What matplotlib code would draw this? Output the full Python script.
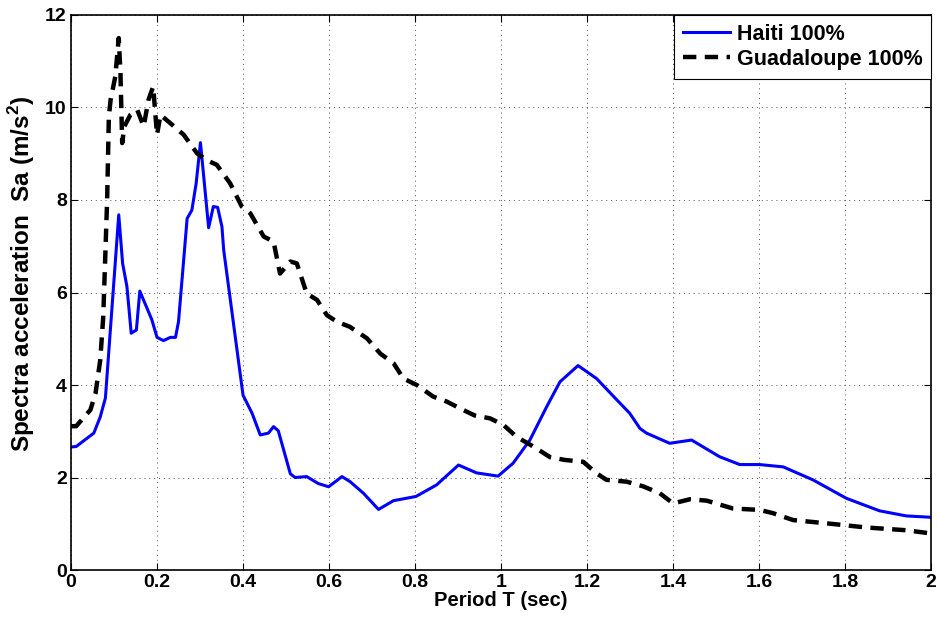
import matplotlib
matplotlib.use("Agg")
from matplotlib import pyplot as plt
import numpy as np

plt.rcParams['font.family'] = ['Liberation Sans', 'DejaVu Sans']
plt.rcParams['font.weight'] = 'bold'
plt.rcParams['mathtext.fontset'] = 'custom'
plt.rcParams['mathtext.bf'] = 'Liberation Sans:bold'
plt.rcParams['mathtext.rm'] = 'Liberation Sans:bold'

# Haiti 100% (blue)
haiti_T = [0.0, 0.012, 0.053, 0.068, 0.08, 0.111, 0.12, 0.13, 0.14, 0.152,
           0.16, 0.188, 0.2, 0.215, 0.231, 0.243, 0.25, 0.27, 0.281, 0.291,
           0.301, 0.32, 0.331, 0.341, 0.351, 0.355, 0.4, 0.421, 0.44, 0.459,
           0.471, 0.482, 0.51, 0.521, 0.548, 0.575, 0.599, 0.63, 0.649, 0.68,
           0.715, 0.75, 0.802, 0.85, 0.901, 0.943, 0.993, 1.028, 1.067, 1.106,
           1.137, 1.179, 1.222, 1.269, 1.299, 1.323, 1.338, 1.392, 1.443, 1.508,
           1.555, 1.601, 1.656, 1.725, 1.803, 1.88, 1.942, 2.0]
haiti_Sa = [2.66, 2.67, 2.96, 3.31, 3.72, 7.68, 6.63, 6.13, 5.12, 5.19,
            6.03, 5.41, 5.03, 4.96, 5.03, 5.03, 5.37, 7.60, 7.78, 8.36,
            9.24, 7.40, 7.86, 7.84, 7.42, 6.92, 3.78, 3.39, 2.92, 2.96,
            3.10, 3.01, 2.08, 2.00, 2.02, 1.87, 1.80, 2.02, 1.91, 1.66,
            1.31, 1.50, 1.59, 1.84, 2.27, 2.10, 2.03, 2.31, 2.81, 3.53,
            4.07, 4.42, 4.14, 3.68, 3.39, 3.06, 2.96, 2.74, 2.81, 2.45,
            2.28, 2.28, 2.23, 1.95, 1.55, 1.28, 1.17, 1.14]

# Guadaloupe 100% (black dashed)
guad_T = [0.0, 0.012, 0.045, 0.057, 0.068, 0.075, 0.084, 0.088, 0.092, 0.103,
          0.111, 0.115, 0.119, 0.124, 0.138, 0.154, 0.169, 0.18, 0.191, 0.2,
          0.208, 0.231, 0.262, 0.293, 0.316, 0.339, 0.37, 0.397, 0.417, 0.448,
          0.471, 0.486, 0.51, 0.525, 0.548, 0.572, 0.595, 0.618, 0.648, 0.688,
          0.719, 0.75, 0.773, 0.804, 0.842, 0.874, 0.912, 0.939, 0.974, 1.005,
          1.036, 1.075, 1.114, 1.148, 1.191, 1.222, 1.245, 1.292, 1.33, 1.369,
          1.4, 1.439, 1.478, 1.539, 1.601, 1.632, 1.679, 1.756, 1.849, 1.942, 2.0]
guad_Sa = [3.11, 3.11, 3.46, 3.82, 4.54, 5.48, 8.0, 9.80, 10.16, 10.67,
           11.50, 10.74, 9.23, 9.59, 9.84, 9.95, 9.59, 10.16, 10.45, 9.41,
           9.84, 9.66, 9.41, 9.01, 8.86, 8.76, 8.36, 7.86, 7.71, 7.21,
           7.10, 6.41, 6.67, 6.63, 5.98, 5.84, 5.51, 5.37, 5.26, 5.01,
           4.68, 4.47, 4.14, 4.00, 3.75, 3.64, 3.46, 3.34, 3.28, 3.14,
           2.88, 2.67, 2.44, 2.38, 2.34, 2.09, 1.95, 1.91, 1.81, 1.66,
           1.44, 1.53, 1.50, 1.33, 1.30, 1.23, 1.08, 1.01, 0.92, 0.86, 0.79]

fig = plt.figure(figsize=(9.38, 6.24), dpi=100)
ax = fig.add_axes([0.0757, 0.0865, 0.917, 0.8895])

ax.plot(haiti_T, haiti_Sa, color='#0000ff', lw=2.2, label='Haiti 100%')
ax.plot(guad_T, guad_Sa, color='black', lw=3.2, linestyle=(0, (3, 1.9)),
        label='Guadaloupe 100%')

ax.set_xlim(0, 2)
ax.set_ylim(0, 12)
ax.set_xticks(np.arange(0, 2.01, 0.2))
ax.set_xticklabels(['0', '0.2', '0.4', '0.6', '0.8', '1', '1.2', '1.4', '1.6', '1.8', '2'])
ax.set_yticks(np.arange(0, 13, 2))
ax.tick_params(direction='in', top=True, right=True, length=5, width=0.8,
               labelsize=14, pad=3)
for s in ax.spines.values():
    s.set_linewidth(1.2)
ax.grid(True, linestyle=(0, (1, 4)), color='#555555', linewidth=0.7)

ax.set_xlabel('Period T (sec)', fontsize=14.5, fontweight='bold', labelpad=0)
ax.set_ylabel(r'Spectra acceleration  Sa (m/s$^\mathbf{2}$)', fontsize=17.5,
              fontweight='bold')
ax.yaxis.set_label_coords(-0.039, 0.533)

leg = ax.legend(loc='upper right', fontsize=15.5, fancybox=False,
                framealpha=1, edgecolor='black', borderaxespad=0.0,
                handlelength=2.2, handletextpad=0.3, borderpad=0.4,
                labelspacing=0.2)
leg.get_frame().set_linewidth(0.8)

fig.savefig('out.png', dpi=100)
